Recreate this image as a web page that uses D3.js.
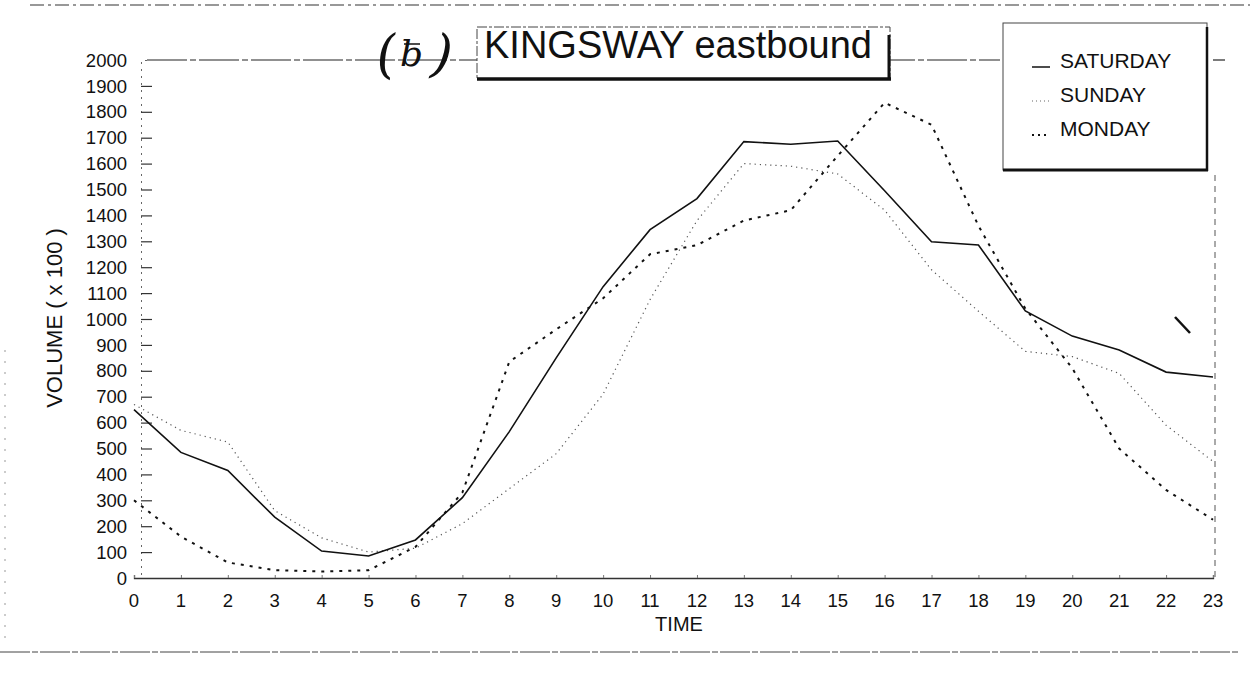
<html>
<head>
<title>KINGSWAY eastbound</title>
<script type="text/javascript" src="https://cdnjs.cloudflare.com/ajax/libs/d3/7.8.5/d3.min.js"></script>
<style type="text/css">
    body{ margin:0; background:#fff; }
    svg{ font-family:"Liberation Sans", Arial, sans-serif; }
</style>
</head>
<body>
<svg id="chart" width="1250" height="677"></svg>
<script type="text/javascript">
// hours 0..23
var hours = d3.range(0, 24);
var saturday = [650, 485, 415, 235, 104, 85, 147, 310, 565, 850, 1125, 1345, 1465, 1685, 1675, 1687, 1495, 1298, 1286, 1031, 934, 880, 795, 776];
var sunday   = [670, 570, 525, 260, 155, 100, 115, 210, 345, 480, 710, 1075, 1380, 1600, 1590, 1560, 1420, 1190, 1030, 875, 855, 790, 590, 450];
var monday   = [300, 160, 60, 30, 25, 30, 120, 330, 835, 960, 1080, 1250, 1285, 1380, 1420, 1630, 1835, 1750, 1360, 1040, 810, 500, 340, 225];
var yTicks = d3.range(0, 2001, 100);
var seriesNames = ["SATURDAY", "SUNDAY", "MONDAY"];

var svg = d3.select("#chart");
var x = d3.scaleLinear().domain([0, 23]).range([134, 1213]);
var y = d3.scaleLinear().domain([0, 2000]).range([578, 60]);

// page scan lines
svg.append("line").attr("x1", 30).attr("x2", 1250).attr("y1", 5).attr("y2", 5)
    .attr("stroke", "#333").attr("stroke-width", 1.2).attr("stroke-dasharray", "14,4,3,4");
svg.append("line").attr("x1", 0).attr("x2", 1240).attr("y1", 652).attr("y2", 652)
    .attr("stroke", "#444").attr("stroke-width", 1).attr("stroke-dasharray", "30,2,6,2");
svg.append("line").attr("x1", 5).attr("x2", 5).attr("y1", 350).attr("y2", 640)
    .attr("stroke", "#999").attr("stroke-width", 1).attr("stroke-dasharray", "2,9");

// 2000 line across top
svg.append("line").attr("x1", 147).attr("x2", 1000).attr("y1", y(2000)).attr("y2", y(2000))
    .attr("stroke", "#222").attr("stroke-width", 1.2).attr("stroke-dasharray", "40,3,6,3");
svg.append("line").attr("x1", 1213).attr("x2", 1225).attr("y1", y(2000)).attr("y2", y(2000))
    .attr("stroke", "#222").attr("stroke-width", 1.2);

// y axis
var yAxis = svg.append("g").attr("transform", "translate(141,0)")
    .call(d3.axisRight(y).tickValues(yTicks).tickSize(11).tickFormat(""));
yAxis.select(".domain").attr("stroke", "#666").attr("stroke-dasharray", "2,5");
yAxis.selectAll(".tick line").attr("stroke", "#333").attr("stroke-width", 1.2);
yAxis.selectAll(".tick").filter(function(d){ return d === 0 || d === 2000; }).remove();

svg.append("g").selectAll("text").data(yTicks).join("text")
    .attr("x", 127).attr("y", function(d){ return y(d); }).attr("dy", "0.36em")
    .attr("text-anchor", "end").attr("font-size", 18.5).attr("fill", "#111")
    .text(function(d){ return d; });

// x axis
var xAxis = svg.append("g").attr("transform", "translate(0,578)")
    .call(d3.axisTop(x).tickValues(hours).tickSize(3).tickFormat(""));
xAxis.select(".domain").attr("stroke", "#333").attr("stroke-width", 1.3);
xAxis.selectAll(".tick line").attr("stroke", "#777");

svg.append("g").selectAll("text").data(hours).join("text")
    .attr("x", function(d){ return x(d); }).attr("y", 607)
    .attr("text-anchor", "middle").attr("font-size", 18.5).attr("fill", "#111")
    .text(function(d){ return d; });

// right dashed border
svg.append("line").attr("x1", 1215).attr("x2", 1215).attr("y1", 175).attr("y2", 578)
    .attr("stroke", "#555").attr("stroke-width", 1).attr("stroke-dasharray", "6,5");

// axis titles
svg.append("text").attr("x", 679).attr("y", 631).attr("text-anchor", "middle")
    .attr("font-size", 20).attr("fill", "#111").text("TIME");
svg.append("text").attr("transform", "translate(62,318) rotate(-90)").attr("text-anchor", "middle")
    .attr("font-size", 22).attr("fill", "#111").text("VOLUME ( x 100 )");

// lines
var line = d3.line().x(function(d, i){ return x(hours[i]); }).y(function(d){ return y(d); });

svg.append("path").datum(sunday).attr("d", line).attr("fill", "none")
    .attr("stroke", "#555").attr("stroke-width", 1.2).attr("stroke-dasharray", "1.2,4");
svg.append("path").datum(monday).attr("d", line).attr("fill", "none")
    .attr("stroke", "#111").attr("stroke-width", 2).attr("stroke-dasharray", "3,6");
svg.append("path").datum(saturday).attr("d", line).attr("fill", "none")
    .attr("stroke", "#111").attr("stroke-width", 1.6);

// title box
var tb = svg.append("g");
tb.append("rect").attr("x", 477).attr("y", 27).attr("width", 413).attr("height", 52)
    .attr("fill", "#fff").attr("stroke", "#444").attr("stroke-width", 1).attr("stroke-dasharray", "10,2,3,2");
tb.append("line").attr("x1", 477).attr("x2", 891).attr("y1", 79).attr("y2", 79)
    .attr("stroke", "#111").attr("stroke-width", 3.5);
tb.append("line").attr("x1", 889).attr("x2", 889).attr("y1", 35).attr("y2", 80)
    .attr("stroke", "#111").attr("stroke-width", 3);
tb.append("text").attr("x", 484).attr("y", 58).attr("font-size", 38).attr("fill", "#111")
    .text("KINGSWAY eastbound");

// handwritten (b)
var hw = svg.append("g").attr("font-family", "DejaVu Serif, serif").attr("font-style", "italic")
    .attr("fill", "#111").attr("font-weight", "normal");
hw.append("text").attr("x", 376).attr("y", 72).attr("font-size", 52).attr("transform", "rotate(-4,390,55)").text("(");
hw.append("text").attr("x", 400).attr("y", 66).attr("font-size", 36).text("b");
hw.append("text").attr("x", 432).attr("y", 72).attr("font-size", 52).attr("transform", "rotate(6,445,55)").text(")");
hw.append("line").attr("x1", 404).attr("x2", 420).attr("y1", 44).attr("y2", 44).attr("stroke", "#111").attr("stroke-width", 1.5);

// legend
var lg = svg.append("g");
lg.append("rect").attr("x", 1003).attr("y", 23).attr("width", 204).attr("height", 147)
    .attr("fill", "#fff").attr("stroke", "#444").attr("stroke-width", 1);
lg.append("line").attr("x1", 1003).attr("x2", 1208).attr("y1", 170).attr("y2", 170)
    .attr("stroke", "#111").attr("stroke-width", 3);
lg.append("line").attr("x1", 1207).attr("x2", 1207).attr("y1", 27).attr("y2", 171)
    .attr("stroke", "#111").attr("stroke-width", 2.5);
var legendStyles = [
    {dash: null, w: 1.5, c: "#111"},
    {dash: "1,3", w: 1.1, c: "#666"},
    {dash: "2,4", w: 1.8, c: "#111"}
];
var entries = lg.selectAll("g.entry").data(seriesNames).join("g").attr("class", "entry")
    .attr("transform", function(d, i){ return "translate(0," + (60 + i * 34) + ")"; });
entries.append("line").attr("x1", 1032).attr("x2", 1050).attr("y1", 7).attr("y2", 7)
    .attr("stroke", function(d, i){ return legendStyles[i].c; })
    .attr("stroke-width", function(d, i){ return legendStyles[i].w; })
    .attr("stroke-dasharray", function(d, i){ return legendStyles[i].dash; });
entries.append("text").attr("x", 1060).attr("y", 0).attr("dy", "0.36em")
    .attr("font-size", 21).attr("fill", "#111").text(function(d){ return d; });

// scan mark
svg.append("line").attr("x1", 1175).attr("y1", 317).attr("x2", 1190).attr("y2", 333)
    .attr("stroke", "#111").attr("stroke-width", 2.5);
</script>
</body>
</html>
